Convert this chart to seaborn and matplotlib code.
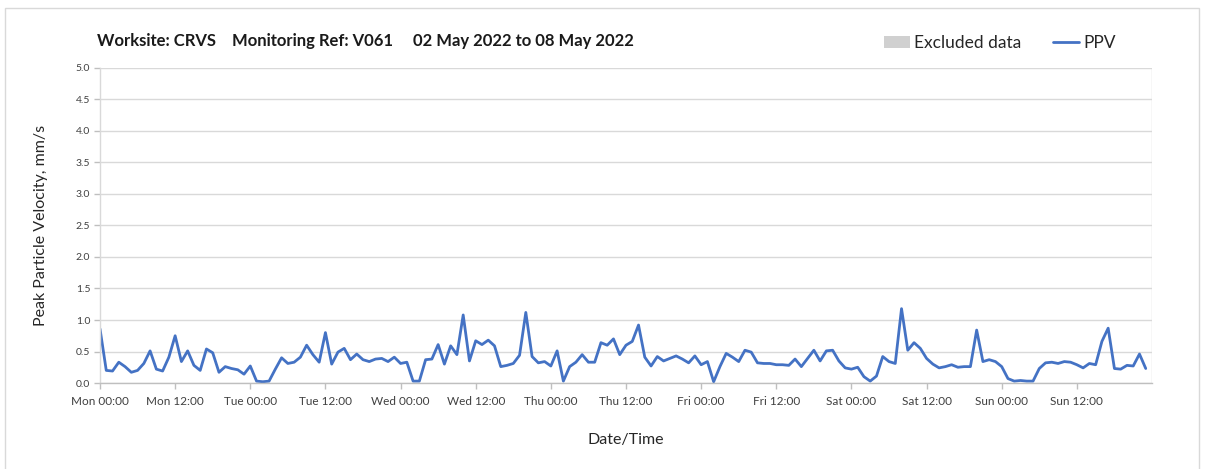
import numpy as np
import pandas as pd
import matplotlib
matplotlib.use("Agg")
import matplotlib.pyplot as plt
import seaborn as sns
from matplotlib.patches import Patch, Rectangle
from matplotlib.lines import Line2D

# ---- data (hourly PPV, mm/s) ----
ppv_mon = [0.86, 0.20, 0.19, 0.33, 0.26, 0.17, 0.20, 0.31, 0.51, 0.22, 0.19, 0.41,
           0.75, 0.34, 0.51, 0.28, 0.20, 0.54, 0.48, 0.17, 0.26, 0.23, 0.21, 0.14]
ppv_tue = [0.27, 0.03, 0.02, 0.03, 0.22, 0.40, 0.31, 0.33, 0.41, 0.60, 0.45, 0.33,
           0.80, 0.30, 0.49, 0.55, 0.37, 0.46, 0.37, 0.34, 0.38, 0.39, 0.34, 0.41]
ppv_wed = [0.31, 0.33, 0.03, 0.03, 0.37, 0.38, 0.61, 0.30, 0.59, 0.45, 1.08, 0.35,
           0.67, 0.61, 0.68, 0.59, 0.26, 0.28, 0.31, 0.44, 1.12, 0.42, 0.32, 0.34]
ppv_thu = [0.27, 0.51, 0.03, 0.26, 0.33, 0.45, 0.33, 0.33, 0.64, 0.60, 0.70, 0.45,
           0.60, 0.66, 0.92, 0.41, 0.27, 0.42, 0.35, 0.39, 0.43, 0.38, 0.32, 0.43]
ppv_fri = [0.29, 0.34, 0.02, 0.26, 0.47, 0.41, 0.34, 0.52, 0.49, 0.32, 0.31, 0.31,
           0.29, 0.29, 0.28, 0.38, 0.26, 0.39, 0.52, 0.35, 0.51, 0.52, 0.35, 0.24]
ppv_sat = [0.22, 0.25, 0.10, 0.03, 0.11, 0.42, 0.34, 0.31, 1.18, 0.52, 0.64, 0.55,
           0.39, 0.30, 0.24, 0.26, 0.29, 0.25, 0.26, 0.26, 0.84, 0.34, 0.37, 0.34]
ppv_sun = [0.26, 0.07, 0.03, 0.04, 0.03, 0.03, 0.23, 0.32, 0.33, 0.31, 0.34, 0.33,
           0.29, 0.24, 0.31, 0.29, 0.66, 0.87, 0.23, 0.22, 0.28, 0.27, 0.46, 0.23]

start_time = "2022-05-02 00:00"
end_time = "2022-05-09 00:00"
x_tick_labels = ["Mon 00:00", "Mon 12:00", "Tue 00:00", "Tue 12:00", "Wed 00:00",
                 "Wed 12:00", "Thu 00:00", "Thu 12:00", "Fri 00:00", "Fri 12:00",
                 "Sat 00:00", "Sat 12:00", "Sun 00:00", "Sun 12:00"]
y_ticks = [0.0, 0.5, 1.0, 1.5, 2.0, 2.5, 3.0, 3.5, 4.0, 4.5, 5.0]
title = "Worksite: CRVS    Monitoring Ref: V061     02 May 2022 to 08 May 2022"
legend_labels = ["Excluded data", "PPV"]

ppv = ppv_mon + ppv_tue + ppv_wed + ppv_thu + ppv_fri + ppv_sat + ppv_sun
times = pd.date_range(start_time, periods=len(ppv), freq="h")
df = pd.DataFrame({"Date/Time": times, "PPV": ppv})

# ---- style ----
sns.set_theme(style="white")
plt.rcParams["font.family"] = ["Lato", "DejaVu Sans"]

W, H = 1205, 469
fig = plt.figure(figsize=(W / 100, H / 100), dpi=100)
fig.patch.set_facecolor("white")
# outer frame
fig.add_artist(Rectangle((5 / W, -0.01), (1199 - 5) / W, 1 - 8 / H + 0.01,
                         transform=fig.transFigure, fill=False,
                         edgecolor="#d9d9d9", linewidth=1))

ax = fig.add_axes([100 / W, (H - 383) / H, (1152 - 100) / W, (383 - 68) / H])

line_color = "#4472C4"
sns.lineplot(data=df, x="Date/Time", y="PPV", ax=ax, color=line_color,
             linewidth=2.0, legend=False)

ax.set_ylim(0, 5)
ax.set_yticks(y_ticks)
ax.set_yticklabels([f"{v:.1f}" for v in y_ticks], fontsize=7.5, color="#404040")

x0, x1 = pd.Timestamp(start_time), pd.Timestamp(end_time)
ax.set_xlim(x0, x1)
major = pd.date_range(start_time, periods=len(x_tick_labels), freq="12h")
ax.set_xticks(major)
ax.set_xticklabels(x_tick_labels, fontsize=8.5, color="#404040")
days = pd.date_range(start_time, end_time, freq="D")
ax.set_xticks(days, minor=True)

ax.grid(False)
ax.yaxis.grid(True, color="#d9d9d9", linewidth=1)
ax.xaxis.grid(True, which="minor", color="#d9d9d9", linewidth=1)
ax.set_axisbelow(True)

for s in ["top", "right"]:
    ax.spines[s].set_visible(False)
ax.spines["left"].set_color("#d9d9d9")
ax.spines["bottom"].set_color("#bfbfbf")
ax.spines["left"].set_linewidth(1)
ax.spines["bottom"].set_linewidth(1)

ax.tick_params(axis="y", which="major", length=4, width=1, color="#bfbfbf", pad=3,
               left=True)
ax.tick_params(axis="x", which="major", length=4, width=1, color="#bfbfbf", pad=5,
               bottom=True)
ax.tick_params(axis="x", which="minor", length=0)

ax.set_ylabel("Peak Particle Velocity, mm/s", fontsize=11.5, color="#262626", labelpad=20)
ax.set_xlabel("Date/Time", fontsize=11.5, color="#262626", labelpad=19)

fig.text(97 / W, 1 - 41 / H, title, fontsize=12, fontweight="bold",
         color="#1a1a1a", ha="left", va="center")

handles = [Patch(facecolor="#d0d0d0", edgecolor="none"),
           Line2D([0], [0], color=line_color, linewidth=2.0)]
fig.legend(handles, legend_labels, loc="center right",
           bbox_to_anchor=(1128 / W, 1 - 43 / H), ncol=2, frameon=False,
           fontsize=12.5, handlelength=1.5, handletextpad=0.25, columnspacing=1.8,
           labelcolor="#262626", borderpad=0.2)

fig.savefig("out.png", dpi=100)
